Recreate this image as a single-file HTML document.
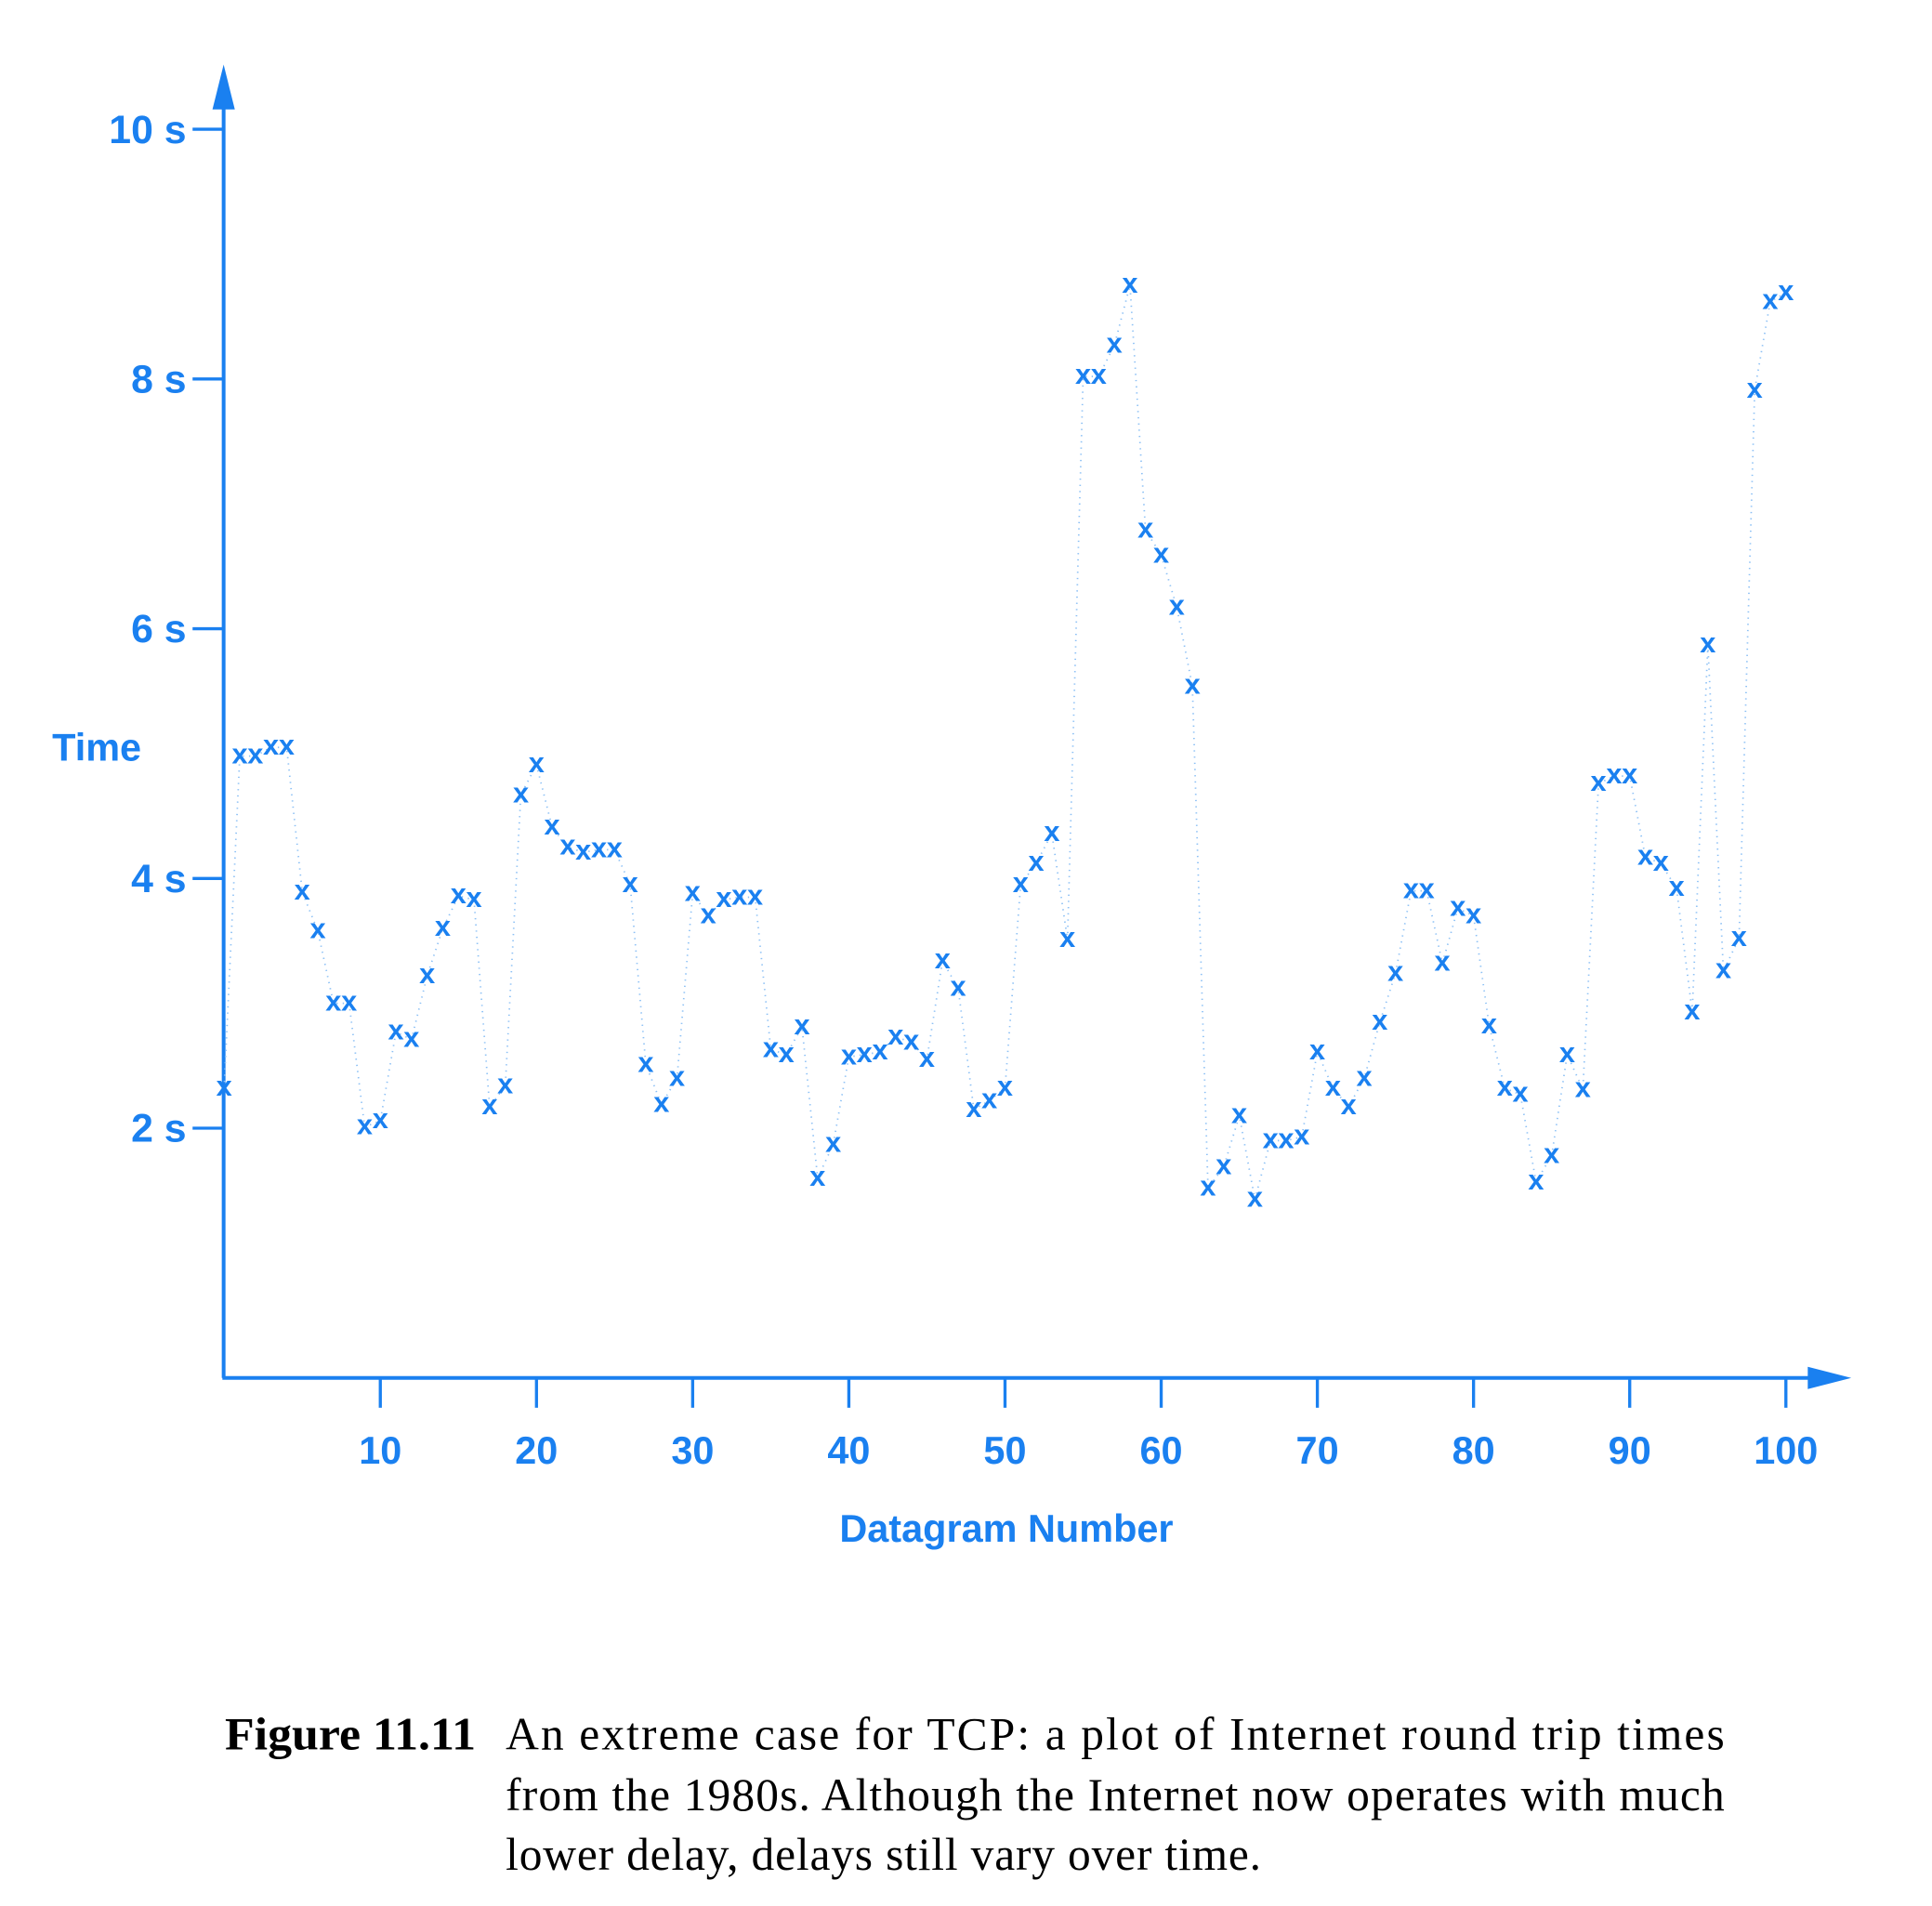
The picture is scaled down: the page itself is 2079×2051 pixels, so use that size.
<!DOCTYPE html>
<html><head><meta charset="utf-8"><style>
html,body{margin:0;padding:0;background:#fff;}
svg{display:block;}
</style></head><body>
<svg width="2079" height="2051" viewBox="0 0 1555 1534" xmlns="http://www.w3.org/2000/svg">
<g id="axes"></g>
<g id="lines"></g>
<g id="marks"></g>
<text x="42" y="612" font-family="Liberation Sans, sans-serif" font-weight="bold" font-size="31" fill="#1a80f0">Time</text>
<text x="810" y="1241" text-anchor="middle" font-family="Liberation Sans, sans-serif" font-weight="bold" font-size="31" fill="#1a80f0">Datagram Number</text>
<g font-family="Liberation Serif, serif" font-size="37" fill="#000">
<text x="181" y="1408" font-weight="bold" textLength="202" lengthAdjust="spacingAndGlyphs">Figure 11.11</text>
<text x="407" y="1408" textLength="981" lengthAdjust="spacing">An extreme case for TCP: a plot of Internet round trip times</text>
<text x="407" y="1457" textLength="981" lengthAdjust="spacing">from the 1980s.  Although the Internet now operates with much</text>
<text x="407" y="1505" textLength="608" lengthAdjust="spacing">lower delay, delays still vary over time.</text>
</g>
</svg>
<script>
const yValues=[2.32,4.98,4.98,5.05,5.05,3.89,3.58,3.0,3.0,2.01,2.06,2.77,2.71,3.22,3.6,3.86,3.83,2.17,2.34,4.67,4.91,4.41,4.25,4.21,4.23,4.23,3.95,2.51,2.19,2.40,3.88,3.70,3.83,3.85,3.85,2.63,2.59,2.81,1.60,1.87,2.57,2.59,2.61,2.73,2.69,2.55,3.34,3.12,2.15,2.22,2.32,3.95,4.12,4.36,3.51,8.02,8.02,8.27,8.75,6.79,6.59,6.17,5.54,1.52,1.69,2.10,1.43,1.90,1.90,1.93,2.61,2.32,2.17,2.40,2.85,3.24,3.90,3.90,3.32,3.76,3.70,2.82,2.32,2.27,1.57,1.78,2.59,2.31,4.76,4.82,4.82,4.17,4.12,3.92,2.93,5.87,3.26,3.52,7.91,8.62,8.69];
const xTicks=[10,20,30,40,50,60,70,80,90,100];
const yTicks=[2,4,6,8,10];
const yTickLabels=["2 s","4 s","6 s","8 s","10 s"];
const C="#1a80f0",NS="http://www.w3.org/2000/svg";
const X0=180.4,XU=12.57,Y0=1109,YU=100.5;
const sx=v=>X0+v*XU, sy=v=>Y0-v*YU;
function mk(t,a,p){const e=document.createElementNS(NS,t);for(const k in a)e.setAttribute(k,a[k]);p.appendChild(e);return e;}
const ax=document.getElementById('axes');
let e;
e=mk('line',{x1:180,y1:1109,x2:180,y2:80,stroke:C,'stroke-width':3},ax);


e=mk('polygon',{points:'180,52 171,88 189,88',fill:C},ax);


e=mk('line',{x1:179,y1:1109,x2:1462,y2:1109,stroke:C,'stroke-width':3},ax);


e=mk('polygon',{points:'1490,1109 1455,1100 1455,1118',fill:C},ax);


yTicks.forEach((v,i)=>{
 const t=mk('line',{x1:155,x2:180,y1:sy(v),y2:sy(v),stroke:C,'stroke-width':2.5},ax);
 
 
 const l=mk('text',{x:150,y:sy(v)+11,'text-anchor':'end','font-family':'Liberation Sans, sans-serif','font-weight':'bold','font-size':32,fill:C},ax);
 l.textContent=yTickLabels[i];
 
 
});
xTicks.forEach(v=>{
 const t=mk('line',{x1:sx(v),x2:sx(v),y1:1109,y2:1133,stroke:C,'stroke-width':2.5},ax);
 
 
 const l=mk('text',{x:sx(v),y:1178,'text-anchor':'middle','font-family':'Liberation Sans, sans-serif','font-weight':'bold','font-size':31,fill:C},ax);
 l.textContent=String(v);
 
 
});
const lg=document.getElementById('lines');
const pts=yValues.map((v,i)=>sx(i).toFixed(1)+','+sy(v).toFixed(1)).join(' ');
e=mk('polyline',{points:pts,fill:'none',stroke:'#8cc0f5','stroke-width':1.3,'stroke-dasharray':'1 4'},lg);


const mg=document.getElementById('marks');
yValues.forEach((v,i)=>{
 const t=mk('text',{x:sx(i),y:sy(v)+6,'text-anchor':'middle','font-family':'Liberation Sans, sans-serif','font-weight':'bold','font-size':23,fill:C},mg);
 t.textContent='x';
 
 
});
</script>
</body></html>
